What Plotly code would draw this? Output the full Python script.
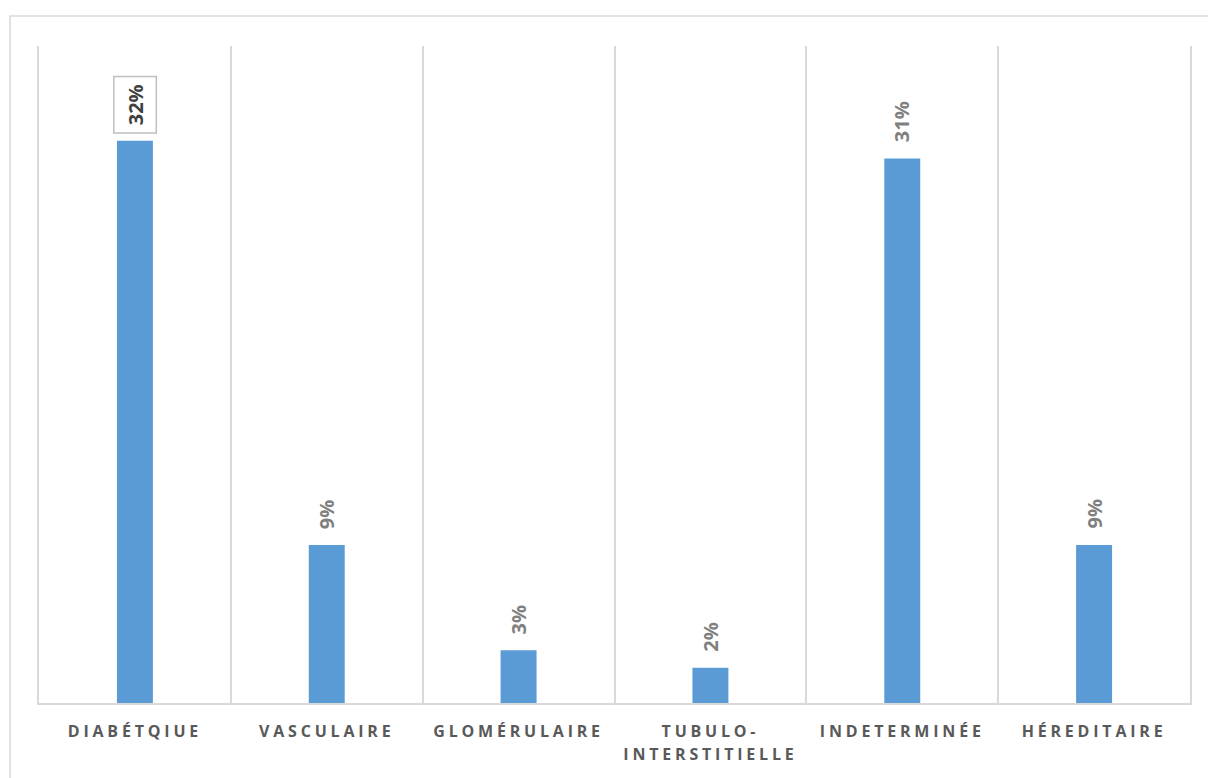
import plotly.graph_objects as go

# Causes of chronic kidney disease (share of patients, %)
categories = [
    "DIABÉTQIUE",
    "VASCULAIRE",
    "GLOMÉRULAIRE",
    "TUBULO-<br>INTERSTITIELLE",
    "INDETERMINÉE",
    "HÉREDITAIRE",
]
values = [32, 9, 3, 2, 31, 9]
value_labels = [f"{v}%" for v in values]

BAR_COLOR = "#5b9bd5"
GRID_COLOR = "#d9d9d9"
TICK_COLOR = "#595959"
LABEL_COLOR = "#7f7f7f"
FONT = "Open Sans, Liberation Sans, sans-serif"

fig = go.Figure()
fig.add_trace(
    go.Bar(
        x=categories,
        y=values,
        marker=dict(color=BAR_COLOR, line=dict(width=0)),
        hoverinfo="skip",
    )
)

# Rotated value labels above each bar; the first one is framed
for i, (cat, val, txt) in enumerate(zip(categories, values, value_labels)):
    boxed = i == 0
    fig.add_annotation(
        x=cat,
        y=val,
        text=f"<b>{txt}</b>",
        textangle=-90,
        showarrow=False,
        xanchor="center",
        yanchor="bottom",
        yshift=7 if boxed else 16,
        font=dict(family=FONT, size=20, color="#404040" if boxed else LABEL_COLOR),
        bordercolor="#bfbfbf" if boxed else "rgba(0,0,0,0)",
        borderwidth=1.5 if boxed else 0,
        borderpad=7 if boxed else 0,
        bgcolor="white" if boxed else "rgba(0,0,0,0)",
    )

# Outer chart frame
fig.add_shape(
    type="rect",
    xref="paper",
    yref="paper",
    x0=-0.0252,
    x1=1.05,
    y0=-0.2,
    y1=1.0457,
    line=dict(color=GRID_COLOR, width=1.5),
    fillcolor="rgba(0,0,0,0)",
    layer="below",
)

fig.update_layout(
    width=1208,
    height=778,
    margin=dict(l=39, r=18, t=46, b=75),
    paper_bgcolor="white",
    plot_bgcolor="white",
    bargap=0.8125,
    showlegend=False,
    font=dict(family=FONT),
)
fig.update_xaxes(
    type="category",
    range=[-0.5, 5.5],
    tickson="boundaries",
    showgrid=True,
    gridcolor=GRID_COLOR,
    gridwidth=1.5,
    showline=True,
    linecolor=GRID_COLOR,
    linewidth=1.5,
    ticks="",
    ticklabelstandoff=13,
    tickfont=dict(family=FONT, size=16, color=TICK_COLOR, weight=700),
    tickangle=0,
    fixedrange=True,
)
fig.update_yaxes(
    range=[0, 37.4],
    showgrid=False,
    zeroline=False,
    showticklabels=False,
    showline=True,
    mirror=True,
    linecolor=GRID_COLOR,
    linewidth=1.5,
    ticks="",
    fixedrange=True,
)

# Letter-spaced category labels with a looser line height
post = """
function spaceTicks(){
  document.querySelectorAll('.xtick text').forEach(function(t){
    t.style.letterSpacing = '3.8px';
    var lines = t.querySelectorAll('tspan.line');
    for (var k = 1; k < lines.length; k++) { lines[k].setAttribute('dy', '1.45em'); }
  });
}
spaceTicks();
setTimeout(spaceTicks, 0);
setTimeout(spaceTicks, 200);
"""

fig.write_html("out.html", post_script=post)
